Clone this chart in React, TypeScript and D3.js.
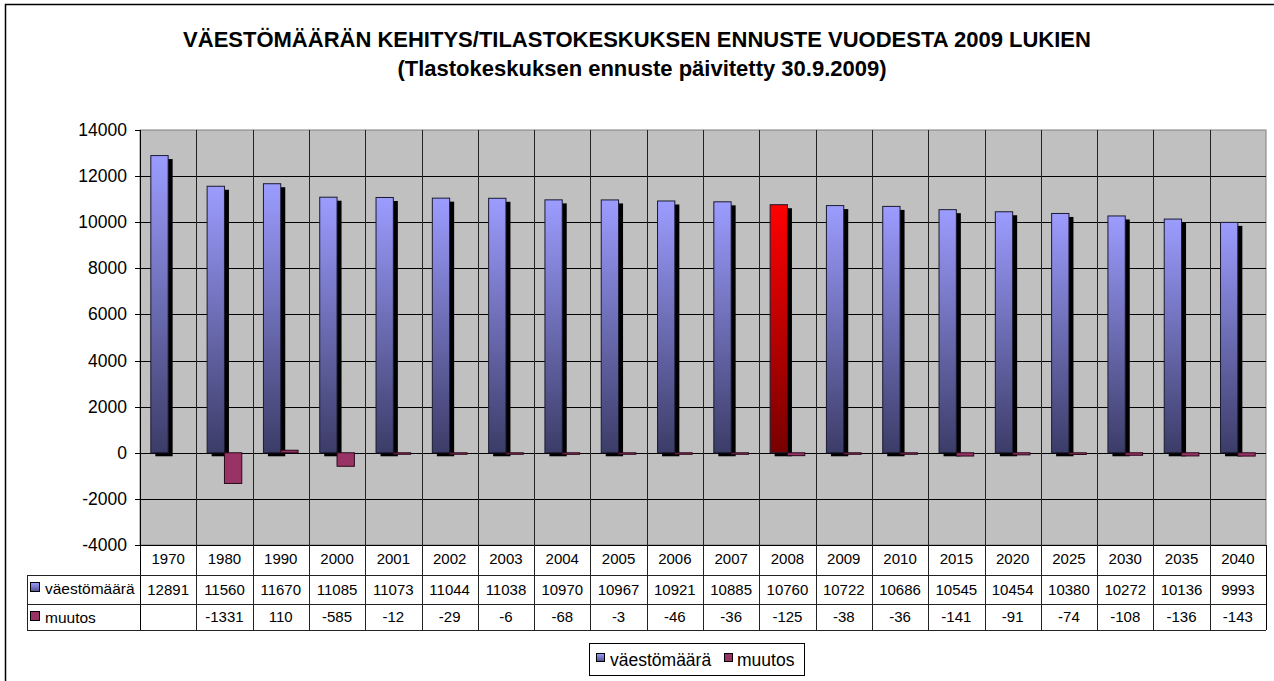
import React from "react";
import * as d3 from "d3";

const years = ["1970", "1980", "1990", "2000", "2001", "2002", "2003", "2004", "2005", "2006", "2007", "2008", "2009", "2010", "2015", "2020", "2025", "2030", "2035", "2040"];
const vaesto = [12891, 11560, 11670, 11085, 11073, 11044, 11038, 10970, 10967, 10921, 10885, 10760, 10722, 10686, 10545, 10454, 10380, 10272, 10136, 9993];
const muutos: (number | null)[] = [null, -1331, 110, -585, -12, -29, -6, -68, -3, -46, -36, -125, -38, -36, -141, -91, -74, -108, -136, -143];
const yTicks = [-4000, -2000, 0, 2000, 4000, 6000, 8000, 10000, 12000, 14000];
const highlightYear = "2008";
const seriesNames = ["väestömäärä", "muutos"];

const FONT = "'Liberation Sans', Arial, sans-serif";

export default function App() {
  const W = 1274, H = 681;
  const plot = { left: 140, right: 1266, top: 130, bottom: 545 };

  const x = d3.scaleBand<string>().domain(years).range([plot.left, plot.right]);
  const inner = d3.scaleBand<string>().domain(["v", "m"]).range([0, x.bandwidth()]).paddingOuter(0.625);
  const y = d3.scaleLinear().domain([-4000, 14000]).range([plot.bottom, plot.top]);

  const rowTop = [plot.bottom, 575, 604, 630];
  const tableLeft = 27;
  const bw = inner.bandwidth();

  return (
    <svg width={W} height={H} style={{ position: "absolute", left: 0, top: 0 }} fontFamily={FONT}>
      <defs>
        <linearGradient id="gBlue" x1="0" y1="0" x2="0" y2="1">
          <stop offset="0" stopColor="#9c9cff" />
          <stop offset="1" stopColor="#3c3c68" />
        </linearGradient>
        <linearGradient id="gRed" x1="0" y1="0" x2="0" y2="1">
          <stop offset="0" stopColor="#ff0000" />
          <stop offset="1" stopColor="#780000" />
        </linearGradient>
        <linearGradient id="gKey" x1="0" y1="0" x2="0" y2="1">
          <stop offset="0" stopColor="#9c9cff" />
          <stop offset="1" stopColor="#50508a" />
        </linearGradient>
      </defs>
      <rect x={0} y={0} width={W} height={H} fill="#fff" />
      <rect x={5.5} y={4.5} width={1300} height={720} fill="#fff" stroke="#000" strokeWidth={1.5} />

      <text x={637} y={47} textAnchor="middle" fontWeight="bold" fontSize={22}>
        VÄESTÖMÄÄRÄN KEHITYS/TILASTOKESKUKSEN ENNUSTE VUODESTA 2009 LUKIEN
      </text>
      <text x={642} y={76} textAnchor="middle" fontWeight="bold" fontSize={22}>
        (Tlastokeskuksen ennuste päivitetty 30.9.2009)
      </text>

      {/* plot area */}
      <rect x={plot.left} y={plot.top} width={plot.right - plot.left} height={plot.bottom - plot.top} fill="#c0c0c0" stroke="#808080" />
      {yTicks.slice(0, -1).map((t) => (
        <line key={t} x1={plot.left - 5} x2={plot.right} y1={Math.round(y(t)) + 0.5} y2={Math.round(y(t)) + 0.5} stroke="#000" />
      ))}
      <line x1={plot.left - 5} x2={plot.left} y1={plot.top + 0.5} y2={plot.top + 0.5} stroke="#000" />
      {years.slice(1).map((yr) => (
        <line key={yr} x1={Math.round(x(yr)!) + 0.5} x2={Math.round(x(yr)!) + 0.5} y1={plot.top} y2={rowTop[3]} stroke="#222" />
      ))}
      <line x1={plot.left + 0.5} x2={plot.left + 0.5} y1={plot.top} y2={rowTop[3]} stroke="#000" />
      <line x1={plot.right + 0.5} x2={plot.right + 0.5} y1={plot.bottom} y2={rowTop[3]} stroke="#000" />

      {yTicks.map((t) => (
        <text key={t} x={127} y={y(t) + 6} textAnchor="end" fontSize={17.5}>{t}</text>
      ))}

      {/* bars */}
      {years.map((yr, i) => {
        const x0 = x(yr)! + inner("v")!;
        const yv = y(vaesto[i]);
        const y0 = y(0);
        const m = muutos[i];
        const xm = x(yr)! + inner("m")!;
        return (
          <g key={yr}>
            <rect x={x0 + 4.5} y={yv + 3.5} width={bw} height={y0 - yv} fill="#000" />
            <rect x={x0} y={yv} width={bw} height={y0 - yv} fill={yr === highlightYear ? "url(#gRed)" : "url(#gBlue)"} stroke="#1a1a30" strokeWidth={1} />
            {m !== null && (
              <rect x={xm} y={Math.min(y(m), y0)} width={bw} height={Math.max(Math.abs(y(m) - y0), 1.5)} fill="#993366" stroke="#2a0a1a" strokeWidth={1} />
            )}
          </g>
        );
      })}

      {/* data table */}
      {rowTop.slice(1).map((ry) => (
        <line key={ry} x1={tableLeft} x2={plot.right} y1={ry + 0.5} y2={ry + 0.5} stroke="#222" />
      ))}
      <line x1={tableLeft + 0.5} x2={tableLeft + 0.5} y1={rowTop[1]} y2={rowTop[3]} stroke="#222" />
      {years.map((yr, i) => {
        const cx = x(yr)! + x.bandwidth() / 2;
        return (
          <g key={yr} fontSize={15} textAnchor="middle">
            <text x={cx} y={564}>{yr}</text>
            <text x={cx} y={594.5}>{vaesto[i]}</text>
            <text x={cx} y={621.5}>{muutos[i] === null ? "" : muutos[i]}</text>
          </g>
        );
      })}
      {seriesNames.map((s, i) => (
        <g key={s}>
          <rect x={30.5} y={rowTop[i + 1] + 7.5} width={9} height={9} fill={i === 0 ? "url(#gKey)" : "#993366"} stroke="#000" />
          <text x={45} y={rowTop[i + 1] + 19} fontSize={15.5}>{s}</text>
        </g>
      ))}

      {/* legend */}
      <rect x={589.5} y={643.5} width={215} height={32} fill="#fff" stroke="#000" />
      <rect x={596.5} y={653.5} width={8} height={8} fill="url(#gKey)" stroke="#000" />
      <text x={610} y={666} fontSize={17.5}>{seriesNames[0]}</text>
      <rect x={724.5} y={653.5} width={8} height={8} fill="#993366" stroke="#000" />
      <text x={737} y={666} fontSize={17.5}>{seriesNames[1]}</text>
    </svg>
  );
}
